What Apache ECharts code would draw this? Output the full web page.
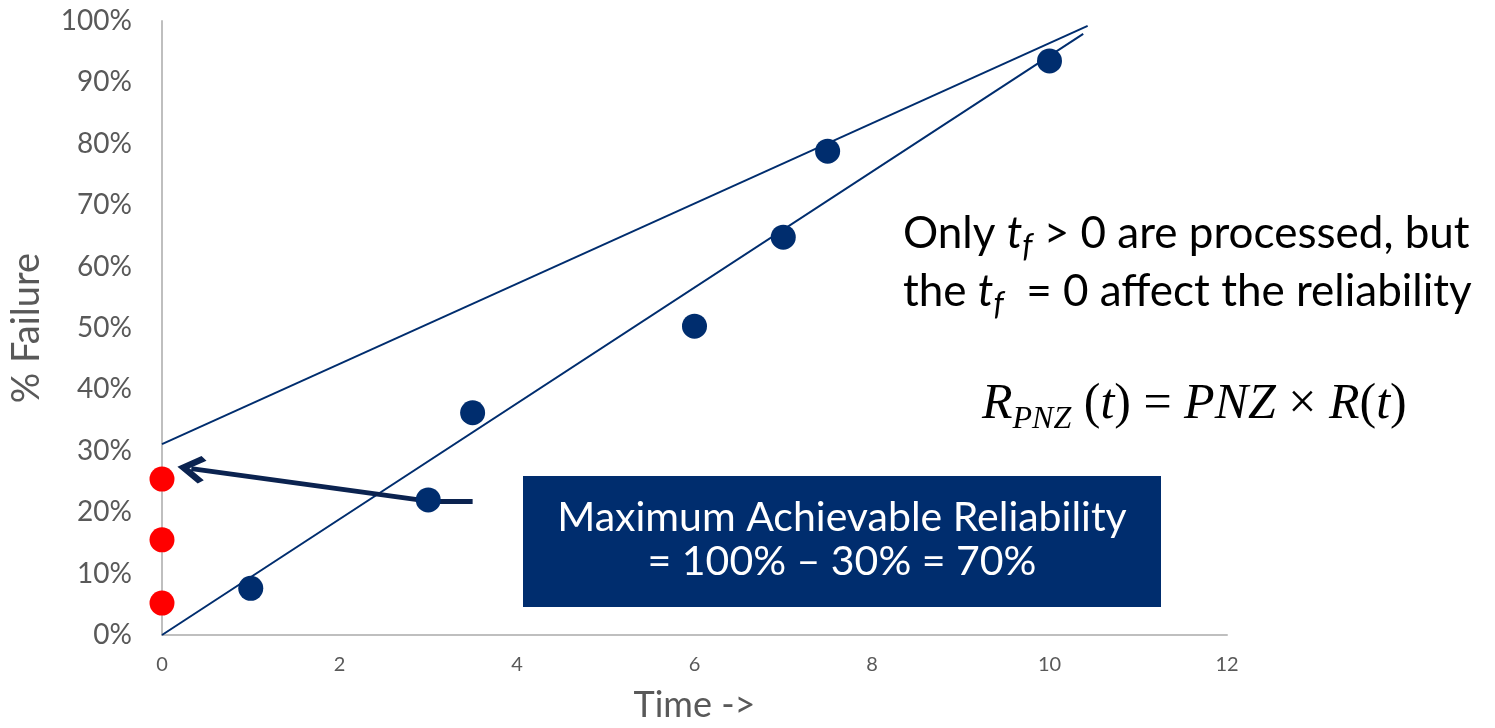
<!DOCTYPE html>
<html>
<head>
<meta charset="utf-8">
<title>% Failure vs Time</title>
<script src="https://cdn.jsdelivr.net/npm/echarts@6.0.0/dist/echarts.min.js"></script>
<style>
    html, body { margin: 0; padding: 0; background: #fff; }
    #chart { width: 1495px; height: 728px; }
</style>
</head>
<body>
<div id="chart"></div>
<script>
// failures at t > 0 (time, % failure)
const failTimes = [1, 3, 3.5, 6, 7, 7.5, 10]
const failPct = [7.6, 22, 36.2, 50.3, 64.8, 78.8, 93.5]
// failures at t = 0
const zeroTimes = [0, 0, 0]
const zeroPct = [5.2, 15.5, 25.4]
// fitted lines (start / end points)
const upperFit = [[0, 31.1], [10.43, 99.2]]
const lowerFit = [[0, 0], [10.38, 97.9]]
// arrow pointing at the 30% intercept
const arrowPath = [[3.5, 21.8], [3.0, 21.8], [0.33, 27.1]]
const xTicks = [0, 2, 4, 6, 8, 10, 12]

const navy = '#002d6e'
const labelGray = '#595959'
const sans = 'Lato, "Open Sans", sans-serif'
const serif = '"Liberation Serif", "DejaVu Serif", serif'

const zip = (xs, ys) => xs.map((x, i) => [x, ys[i]])

const myChart = echarts.init(document.getElementById('chart'))

const option = {
    animation: false,
    grid: { left: 160, right: 268, top: 21, bottom: 93 },
    xAxis: {
        type: 'value',
        min: xTicks[0],
        max: xTicks[xTicks.length - 1],
        interval: 2,
        name: 'Time ->',
        nameLocation: 'middle',
        nameGap: 52,
        nameTextStyle: { color: labelGray, fontSize: 36, fontFamily: sans },
        axisLine: { show: true, lineStyle: { color: '#bfbfbf', width: 2 } },
        axisTick: { show: false },
        splitLine: { show: false },
        axisLabel: { color: labelGray, fontSize: 20, fontFamily: sans, margin: 20 }
    },
    yAxis: {
        type: 'value',
        min: 0,
        max: 100,
        interval: 10,
        name: '% Failure',
        nameLocation: 'middle',
        nameGap: 116,
        nameTextStyle: { color: labelGray, fontSize: 38, fontFamily: sans },
        axisLine: { show: true, lineStyle: { color: '#bfbfbf', width: 2 } },
        axisTick: { show: false },
        splitLine: { show: false },
        axisLabel: { color: labelGray, fontSize: 28, fontFamily: sans, margin: 30, formatter: '{value}%' }
    },
    series: [
        {
            name: 'upper fit',
            type: 'line',
            data: upperFit,
            showSymbol: false,
            lineStyle: { color: navy, width: 2 },
            z: 2
        },
        {
            name: 'lower fit',
            type: 'line',
            data: lowerFit,
            showSymbol: false,
            lineStyle: { color: navy, width: 2 },
            z: 2
        },
        {
            name: 'arrow',
            type: 'lines',
            coordinateSystem: 'cartesian2d',
            z: 3,
            symbol: ['none', 'path://M0,12 L12,0 L24,12 L20.5,15 L12,6.5 L3.5,15 Z'],
            symbolSize: [0, 28],
            data: [
                { coords: [arrowPath[0], arrowPath[1]], symbol: ['none', 'none'] },
                { coords: [arrowPath[1], arrowPath[2]] }
            ],
            lineStyle: { color: '#0b2350', width: 5, opacity: 1 }
        },
        {
            name: 't > 0',
            type: 'scatter',
            data: zip(failTimes, failPct),
            symbolSize: 25,
            itemStyle: { color: navy, opacity: 1 },
            z: 4
        },
        {
            name: 't = 0',
            type: 'scatter',
            data: zip(zeroTimes, zeroPct),
            symbolSize: 25,
            itemStyle: { color: '#ff0000', opacity: 1 },
            z: 4
        }
    ],
    graphic: [
        {
            type: 'group',
            left: 523,
            top: 476,
            children: [
                {
                    type: 'rect',
                    shape: { x: 0, y: 0, width: 638, height: 131 },
                    style: { fill: navy }
                },
                {
                    type: 'text',
                    x: 319,
                    y: 64,
                    style: {
                        text: 'Maximum Achievable Reliability\n= 100% – 30% = 70%',
                        fill: '#fff',
                        fontSize: 41,
                        fontFamily: sans,
                        lineHeight: 44,
                        align: 'center',
                        verticalAlign: 'middle'
                    }
                }
            ]
        },
        {
            type: 'text',
            left: 903,
            top: 205,
            style: {
                text: 'Only {t|t}{f|f} > 0 are processed, but\nthe {t|t}{f|f}  = 0 affect the reliability',
                fill: '#000',
                fontSize: 44,
                fontFamily: sans,
                lineHeight: 58,
                rich: {
                    t: { fontSize: 44, fontStyle: 'italic', fontFamily: sans, fill: '#000', lineHeight: 58 },
                    f: { fontSize: 32, fontStyle: 'italic', fontFamily: sans, fill: '#000', lineHeight: 30, verticalAlign: 'bottom' }
                }
            }
        },
        {
            type: 'text',
            left: 982,
            top: 380,
            style: {
                text: '{i|R}{s|PNZ}{u| (}{i|t}{u|) = }{i|PNZ}{u| × }{i|R}{u|(}{i|t}{u|)}',
                fill: '#000',
                fontFamily: serif,
                fontSize: 50,
                rich: {
                    i: { fontSize: 50, fontStyle: 'italic', fontFamily: serif, fill: '#000', lineHeight: 62 },
                    u: { fontSize: 50, fontFamily: serif, fill: '#000', lineHeight: 62 },
                    s: { fontSize: 32, fontStyle: 'italic', fontFamily: serif, fill: '#000', lineHeight: 34, verticalAlign: 'bottom' }
                }
            }
        }
    ]
}

myChart.setOption(option)
</script>
</body>
</html>
